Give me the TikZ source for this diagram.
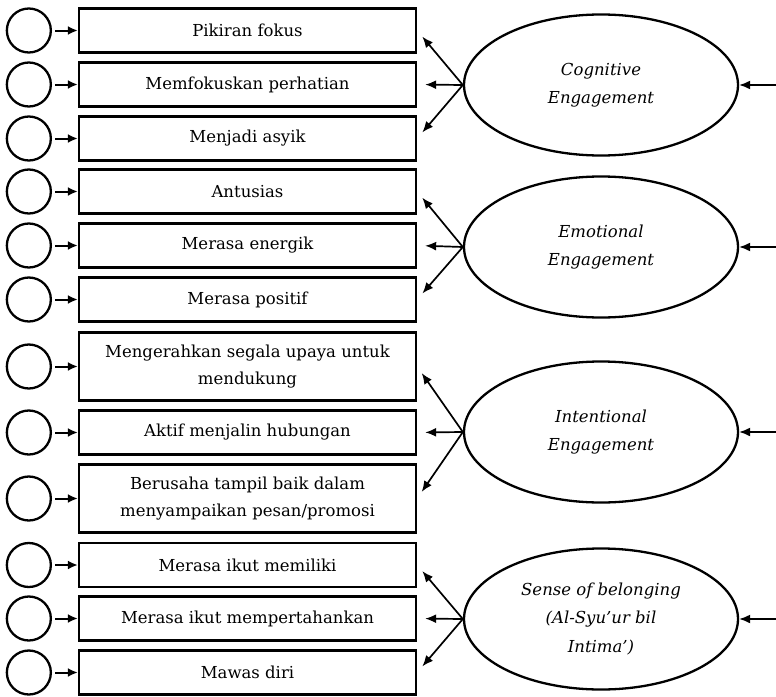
\documentclass[tikz,border=0pt]{standalone}
\usepackage{fontspec}
\setmainfont{DejaVu Serif}
\usetikzlibrary{shapes.geometric,arrows.meta}
\begin{document}
\begin{tikzpicture}[x=1pt,y=-1pt,
  every node/.style={font=\fontsize{16.5}{27}\selectfont},
  indicator/.style={draw,line width=2.3pt,rectangle,minimum width=337pt,minimum height=44pt,inner sep=0pt,align=center},
  tallind/.style={indicator,minimum height=68pt},
  errterm/.style={draw,line width=2.3pt,circle,minimum size=44pt,inner sep=0pt},
  construct/.style={draw,line width=2.3pt,ellipse,minimum width=274pt,minimum height=141pt,inner sep=0pt,align=center,font=\fontsize{16.5}{28.5}\selectfont\itshape},
  load/.style={line width=1.7pt,-{Latex[length=11pt,width=9pt]},shorten >=8pt},
  feed/.style={line width=1.7pt,-{Latex[length=11pt,width=9pt]}},
  errarrow/.style={line width=2pt,-{Latex[length=10pt,width=9pt]},shorten <=3pt}
]
\useasboundingbox (0,0) rectangle (776,696);

% indicator boxes
\node[indicator] (b1) at (247.5,30.5) {Pikiran fokus};
\node[indicator] (b2) at (247.5,84.5) {Memfokuskan perhatian};
\node[indicator] (b3) at (247.5,138.5) {Menjadi asyik};
\node[indicator] (b4) at (247.5,191.5) {Antusias};
\node[indicator] (b5) at (247.5,245.5) {Merasa energik};
\node[indicator] (b6) at (247.5,299.5) {Merasa positif};
\node[tallind] (b7) at (247.5,366.5) {Mengerahkan segala upaya untuk\\mendukung};
\node[indicator] (b8) at (247.5,432.5) {Aktif menjalin hubungan};
\node[tallind] (b9) at (247.5,498.5) {Berusaha tampil baik dalam\\menyampaikan pesan/promosi};
\node[indicator] (b10) at (247.5,565) {Merasa ikut memiliki};
\node[indicator] (b11) at (247.5,618.5) {Merasa ikut mempertahankan};
\node[indicator] (b12) at (247.5,672.5) {Mawas diri};

% error terms
\foreach \i in {1,...,12}{
  \path (b\i.west) ++(-49,0) node[errterm] (e\i) {};
  \draw[errarrow] (e\i) -- (b\i.west);
}

% latent constructs
\node[construct] (c1) at (601,85) {Cognitive\\Engagement};
\node[construct] (c2) at (601,247) {Emotional\\Engagement};
\node[construct] (c3) at (601,432) {Intentional\\Engagement};
\node[construct] (c4) at (601,619) {Sense of belonging\\(Al-Syu’ur bil\\Intima’)};

% loadings
\foreach \c/\a/\b/\d in {c1/b1/b2/b3, c2/b4/b5/b6, c3/b7/b8/b9, c4/b10/b11/b12}{
  \draw[load] (\c.west) -- (\a.east);
  \draw[load] (\c.west) -- (\b.east);
  \draw[load] (\c.west) -- (\d.east);
}

% incoming paths
\foreach \c in {c1,c2,c3,c4}{
  \coordinate (in\c) at (\c.east -| 776,0);
  \draw[feed] (in\c) -- (\c.east);
}
\end{tikzpicture}
\end{document}
